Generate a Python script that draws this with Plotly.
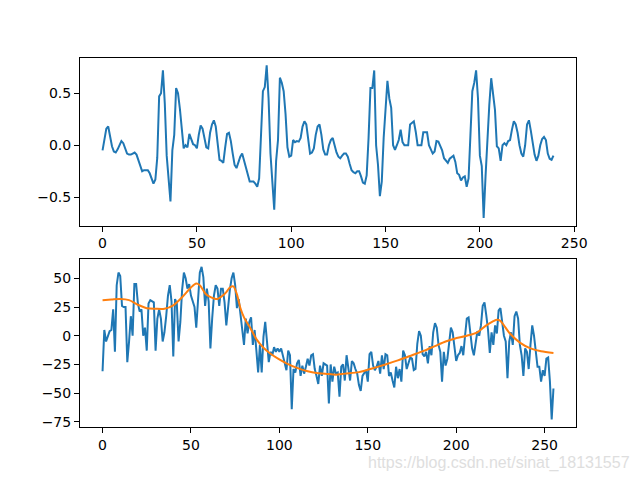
import plotly.graph_objects as go

# ---- data ----
ecg = [
    -0.05, 0.08, 0.16, 0.18, 0.08, -0.01, -0.06, -0.07, -0.04, 0.01,
    0.04, 0.02, -0.04, -0.08, -0.09, -0.09, -0.08, -0.07, -0.09, -0.15,
    -0.21, -0.25, -0.24, -0.24, -0.24, -0.27, -0.32, -0.37, -0.33, -0.12,
    0.47, 0.50, 0.72, 0.40, -0.10, -0.35, -0.54, -0.05, 0.10, 0.55,
    0.50, 0.35, 0.12, -0.03, 0.00, -0.02, 0.11, 0.05, 0.01, 0.00,
    -0.03, 0.10, 0.19, 0.16, 0.05, -0.02, -0.03, 0.12, 0.20, 0.24,
    0.18, 0.00, -0.14, -0.15, -0.17, -0.02, 0.11, 0.12, 0.04, -0.08,
    -0.19, -0.22, -0.16, -0.11, -0.08, -0.15, -0.22, -0.30, -0.35, -0.35,
    -0.35, -0.37, -0.40, -0.32, 0.15, 0.52, 0.56, 0.77, 0.45, -0.08,
    -0.35, -0.62, -0.15, 0.05, 0.65, 0.60, 0.52, 0.30, -0.02, -0.11,
    -0.10, 0.05, 0.03, 0.04, 0.035, 0.07, 0.18, 0.23, 0.20, 0.08,
    -0.08, -0.07, -0.03, 0.10, 0.18, 0.20, 0.10, -0.04, -0.09, -0.09,
    0.00, 0.05, 0.07, 0.00, -0.07, -0.11, -0.125, -0.10, -0.08, -0.08,
    -0.11, -0.18, -0.24, -0.26, -0.27, -0.25, -0.25, -0.30, -0.36, -0.37,
    -0.29, 0.07, 0.55, 0.55, 0.72, 0.00, -0.19, -0.49, -0.35, 0.07,
    0.36, 0.62, 0.45, 0.36, 0.00, -0.045, 0.00, 0.05, 0.15, 0.03,
    0.00, 0.00, 0.00, 0.20, 0.22, 0.23, 0.13, 0.00, 0.00, 0.00,
    0.125, 0.125, 0.125, 0.00, -0.05, -0.08, -0.06, 0.04, 0.035, 0.00,
    -0.05, -0.125, -0.15, -0.17, -0.13, -0.11, -0.10, -0.16, -0.27, -0.285,
    -0.34, -0.31, -0.30, -0.40, -0.32, 0.10, 0.52, 0.60, 0.72, 0.45,
    -0.10, -0.20, -0.70, -0.30, 0.10, 0.39, 0.645, 0.48, 0.34, -0.01,
    -0.03, -0.15, 0.00, 0.02, 0.00, 0.04, 0.05, 0.15, 0.23, 0.20,
    0.12, 0.00, -0.08, -0.11, 0.00, 0.20, 0.24, 0.14, 0.00, -0.09,
    -0.15, -0.10, 0.00, 0.06, 0.08, 0.05, -0.08, -0.13, -0.14, -0.10,
]

noisy = [
    -31, 5, -5, 0, 4, 5, 23, -14, 44, 55,
    52, 26, 25, 25, -23, -5, 17, 0, 45, 45,
    28, 21, 23, 0, 7, -13, 28, 31, 30, 29,
    -13, 15, 23, 15, -5, 3, 17, 35, 44, 30,
    -18, 32, 28, -5, 12, 40, 55, 50, 41, 45,
    35, 29, 25, 7, 30, 55, 60, 51, 26, 41,
    30, -11, 15, 35, 44, 41, 26, 41, 41, 29,
    9, 25, 40, 50, 55, 44, 24, 32, 17, 3,
    -8, 15, 2, 12, 16, -8, 5, -13, -32, -8,
    -32, -1, 12, -5, -23, -14, -17, -10, -14, -11,
    -14, -11, -18, -22, -30, -13, -17, -64, -29, -32,
    -24, -21, -35, -26, -33, -27, -20, -26, -17, -16,
    -29, -35, -42, -26, -35, -24, -25, -26, -59, -25,
    -40, -27, -33, -32, -53, -27, -25, -39, -17, -30,
    -39, -22, -24, -29, -33, -43, -48, -35, -32, -30,
    -40, -16, -14, -26, -30, -27, -22, -33, -17, -29,
    -16, -17, -35, -32, -39, -45, -27, -37, -29, -40,
    -13, -17, -29, -23, -19, -20, -30, -29, -7, 4,
    0, -16, -18, -14, -24, -9, -17, 3, 11, 7,
    -8, -14, -40, -14, -26, -20, -5, 7, 3, -10,
    -22, -17, -15, -9, -17, 0, 15, 16, 3, -11,
    -17, -4, 4, 0, 9, 26, 29, 18, 5, -15,
    3, -8, 9, 2, 22, 24, 13, 0, -5, -37,
    -5, 3, -8, 17, 21, 15, -8, -17, -35, -11,
    -14, -29, -8, 9, 0, -14, -27, -27, -40, -30,
    -35, -20, -19, -40, -73, -46,
]

smooth_x = [0, 5, 10, 15, 20, 25, 30, 35, 40, 45, 50, 53, 55, 58, 60, 63, 65, 68,
            70, 72, 74, 76, 78, 80, 84, 87, 91, 95, 99, 104, 110, 116, 121, 126,
            132, 137, 145, 152, 160, 167, 175, 182, 188, 194, 199, 206, 212, 217,
            221, 223, 225, 227, 230, 236, 242, 248, 255]
smooth_y = [31, 31.5, 32, 31, 27, 24, 23.5, 23.5, 26.5, 33.5, 42, 45.5, 44, 37,
            34.5, 32.5, 32, 35, 38, 42, 43, 36, 24, 16, 5.5, -3, -10.5, -15.7,
            -19.7, -24, -28, -31, -32.5, -33, -34, -33, -31.7, -28.7, -25, -21.5,
            -17, -13, -9, -5, -2.6, 0, 3, 9, 12.7, 14, 13, 9, 2.6, -6, -11,
            -13.6, -15]

top_xticks = [0, 50, 100, 150, 200, 250]
top_yticks = [-0.5, 0.0, 0.5]
bot_xticks = [0, 50, 100, 150, 200, 250]
bot_yticks = [-75, -50, -25, 0, 25, 50]

BLUE = "#1f77b4"
ORANGE = "#ff7f0e"


def padded(lo, hi):
    m = (hi - lo) * 0.05
    return [lo - m, hi + m]


x1 = list(range(len(ecg)))
x2 = list(range(len(noisy)))

fig = go.Figure()
fig.add_trace(go.Scatter(x=x1, y=ecg, mode="lines",
                         line=dict(color=BLUE, width=2), xaxis="x", yaxis="y",
                         showlegend=False))
fig.add_trace(go.Scatter(x=x2, y=noisy, mode="lines",
                         line=dict(color=BLUE, width=2), xaxis="x2", yaxis="y2",
                         showlegend=False))
fig.add_trace(go.Scatter(x=smooth_x, y=smooth_y, mode="lines",
                         line=dict(color=ORANGE, width=2, shape="spline", smoothing=0.8),
                         xaxis="x2", yaxis="y2", showlegend=False))

font = dict(family="DejaVu Sans", size=14, color="black")
common = dict(showline=True, mirror=True, linecolor="black", linewidth=1,
              ticks="outside", ticklen=5, tickwidth=1, tickcolor="black",
              showgrid=False, zeroline=False, tickfont=font, automargin=False)

fig.update_layout(
    template="none",
    width=640, height=480, autosize=False,
    margin=dict(l=0, r=0, t=0, b=0, pad=0),
    paper_bgcolor="white", plot_bgcolor="white",
    xaxis=dict(domain=[0.125, 0.9], anchor="y",
               range=padded(0, len(ecg) - 1),
               tickmode="array", tickvals=top_xticks, **common),
    yaxis=dict(domain=[0.53, 0.88], anchor="x",
               range=padded(min(ecg), max(ecg)),
               tickmode="array", tickvals=top_yticks,
               ticktext=["\u22120.5", "0.0", "0.5"], **common),
    xaxis2=dict(domain=[0.125, 0.9], anchor="y2",
                range=padded(0, len(noisy) - 1),
                tickmode="array", tickvals=bot_xticks, **common),
    yaxis2=dict(domain=[0.11, 0.46], anchor="x2",
                range=padded(min(noisy), max(noisy)),
                tickmode="array", tickvals=bot_yticks, **common),
    annotations=[dict(text="https://blog.csdn.net/sinat_18131557",
                      xref="paper", yref="paper", x=0.987, y=0.036,
                      xanchor="right", yanchor="middle", showarrow=False,
                      font=dict(family="Liberation Sans", size=16,
                                color="rgb(222,222,222)"))],
)

fig.write_html("out.html", config={"responsive": False})
